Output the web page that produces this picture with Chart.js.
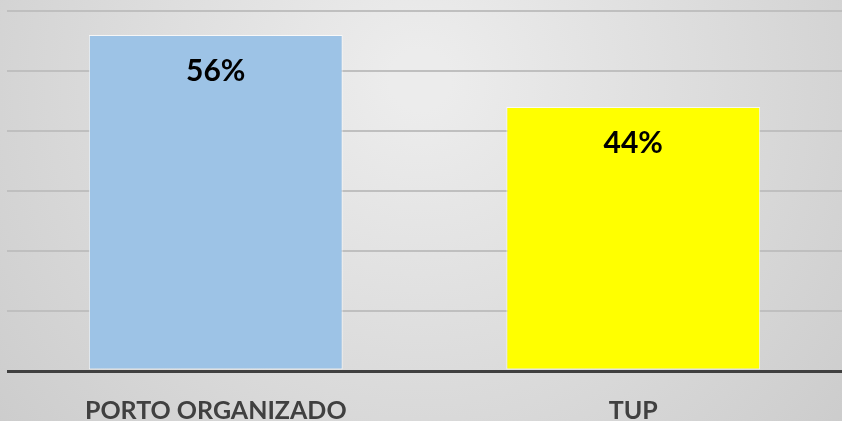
<!DOCTYPE html>
<html>
<head>
<meta charset="utf-8">
<script src="https://cdn.jsdelivr.net/npm/chart.js@4"></script>
<style>
  html, body { margin: 0; padding: 0; overflow: hidden; background: #d8d8d8; }
  #wrap { width: 842px; height: 421px; position: relative; }
</style>
</head>
<body>
<div id="wrap"><canvas id="barChart"></canvas></div>
<script>
// dados do gráfico
const categorias = ['PORTO ORGANIZADO', 'TUP'];
const participacao = [56, 44];
const coresBarras = ['#9dc3e6', '#ffff00'];
const yMax = 60;
const yStep = 10;

// fundo em degradê cinza
const fundo = {
    id: 'fundo',
    beforeDraw(chart) {
        const c = chart.ctx;
        const g = c.createRadialGradient(420, 80, 30, 420, 80, 650);
        g.addColorStop(0, '#ececec');
        g.addColorStop(1, '#c6c6c6');
        c.save();
        c.fillStyle = g;
        c.fillRect(0, 0, chart.width, chart.height);
        c.restore();
    }
};

// rótulos de percentual dentro das barras
const rotulos = {
    id: 'rotulos',
    afterDatasetsDraw(chart) {
        const c = chart.ctx;
        const meta = chart.getDatasetMeta(0);
        c.save();
        c.font = 'bold 30px Lato, "Open Sans", sans-serif';
        c.fillStyle = '#000';
        c.textAlign = 'center';
        c.textBaseline = 'middle';
        meta.data.forEach((bar, i) => {
            c.fillText(participacao[i] + '%', bar.x, bar.y + 36);
        });
        c.restore();
    }
};

new Chart(document.getElementById('barChart'), {
    type: 'bar',
    data: {
        labels: categorias,
        datasets: [{
            data: participacao,
            backgroundColor: coresBarras,
            borderColor: 'rgba(255,255,255,0.75)',
            borderWidth: 1,
            borderSkipped: false,
            barPercentage: 0.608,
            categoryPercentage: 1
        }]
    },
    options: {
        responsive: true,
        maintainAspectRatio: false,
        animation: false,
        layout: { padding: { top: 11, left: 7, right: 0, bottom: 0 } },
        plugins: {
            legend: { display: false },
            tooltip: { enabled: false }
        },
        scales: {
            x: {
                grid: { display: false, drawTicks: false },
                border: { display: false },
                ticks: {
                    padding: 25,
                    color: '#404040',
                    font: { family: 'Lato, "Open Sans", sans-serif', size: 25, weight: 'bold' }
                },
                afterFit(scale) { scale.height = 50; }
            },
            y: {
                min: 0,
                max: yMax,
                ticks: { display: false, stepSize: yStep },
                grid: {
                    drawTicks: false,
                    color: ctx => ctx.tick.value === 0 ? '#404040' : '#bfbfbf',
                    lineWidth: ctx => ctx.tick.value === 0 ? 3 : 2
                },
                border: { display: false },
                afterFit(scale) { scale.width = 0; }
            }
        }
    },
    plugins: [fundo, rotulos]
});
</script>
</body>
</html>
